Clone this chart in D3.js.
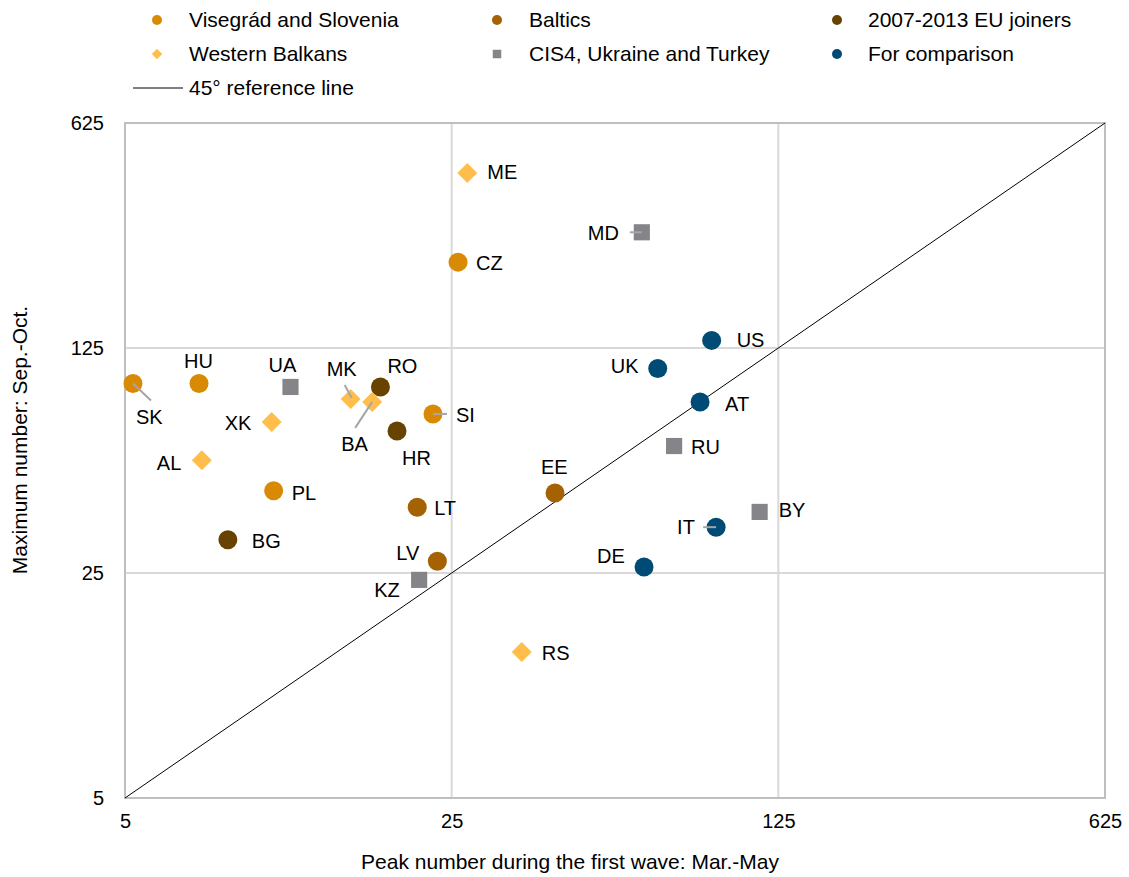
<!DOCTYPE html>
<html>
<head>
<meta charset="utf-8">
<script src="https://cdn.jsdelivr.net/npm/d3@7"></script>
<style>
  body { margin: 0; background: #fff; }
  text { font-family: "Liberation Sans", Arial, sans-serif; fill: #000; }
</style>
</head>
<body>
<div id="chart"></div>
<script>
// Data: peak in first wave (x) vs max in Sep.-Oct. (y)
var codes   = ["SK", "HU", "PL", "CZ", "SI",
               "EE", "LT", "LV",
               "RO", "HR", "BG",
               "ME", "MK", "BA", "XK", "AL", "RS",
               "UA", "MD", "RU", "BY", "KZ",
               "US", "UK", "AT", "IT", "DE"];
var groups  = ["vis", "vis", "vis", "vis", "vis",
               "bal", "bal", "bal",
               "eu", "eu", "eu",
               "wb", "wb", "wb", "wb", "wb", "wb",
               "cis", "cis", "cis", "cis", "cis",
               "cmp", "cmp", "cmp", "cmp", "cmp"];
var peakFirst = [5.2, 7.2, 10.4, 25.8, 22.8,
                 41.6, 21.1, 23.3,
                 17.6, 19.1, 8.3,
                 27, 15.2, 16.9, 10.3, 7.3, 35.3,
                 11.3, 63.8, 74.8, 114, 21.3,
                 90, 69, 85, 92, 64.5];
var maxAutumn = [97, 97, 45, 231, 78,
                 44.3, 40, 27.2,
                 94.6, 69, 31.7,
                 437, 86.8, 85, 73.6, 56, 14.2,
                 94.6, 286, 62, 38.7, 23.8,
                 132, 108, 85, 34.7, 26.1];
var groupKeys   = ["vis", "bal", "eu", "wb", "cis", "cmp"];
var groupNames  = ["Visegrád and Slovenia", "Baltics", "2007-2013 EU joiners",
                   "Western Balkans", "CIS4, Ukraine and Turkey", "For comparison"];
var tickValues  = [5, 25, 125, 625];

var colors = { vis: "#D98A04", bal: "#A46202", eu: "#684300", wb: "#FFBE4C", cis: "#858489", cmp: "#004B76" };
var shapes = { vis: "circle", bal: "circle", eu: "circle", wb: "diamond", cis: "square", cmp: "circle" };

// label placement relative to the marker: [dx, dy, leader line?]
var labelPos = {
  SK: [3, 34, [0, 0, 18, 17]], HU: [-15, -22], PL: [18, 2], CZ: [18, 1], SI: [23, 1, [0, 0, 14, 0]],
  EE: [-14, -26], LT: [17, 1], LV: [-41, -8],
  RO: [7, -21], HR: [5, 27], BG: [24, 1],
  ME: [20, -1], MK: [-24, -30, [-6, -14, 1, -1]], BA: [-31, 42, [0, 0, -17, 26]], XK: [-47, 1], AL: [-45, 3], RS: [20, 1],
  UA: [-22, -22], MD: [-54, 1, [-12, 0, 0, 0]], RU: [17, 1], BY: [19, -2], KZ: [-45, 10],
  US: [25, 0], UK: [-47, -2], AT: [25, 2], IT: [-39, 0, [-13, 0, 0, 0]], DE: [-47, -11]
};

var svgWidth = 1129;
var svgHeight = 877;
var plot = { left: 125, right: 1105, top: 123, bottom: 798 };

var svg = d3.select("#chart")
  .append("svg")
  .attr("width", svgWidth)
  .attr("height", svgHeight);

var xScale = d3.scaleLog().base(5).domain([5, 625]).range([plot.left, plot.right]);
var yScale = d3.scaleLog().base(5).domain([5, 625]).range([plot.bottom, plot.top]);

// gridlines
svg.append("g").selectAll("line.gx")
  .data(tickValues.slice(1, 3))
  .enter().append("line")
  .attr("x1", d => xScale(d)).attr("x2", d => xScale(d))
  .attr("y1", plot.top).attr("y2", plot.bottom)
  .attr("stroke", "#D9D9D9").attr("stroke-width", 2);

svg.append("g").selectAll("line.gy")
  .data(tickValues.slice(1, 3))
  .enter().append("line")
  .attr("y1", d => yScale(d)).attr("y2", d => yScale(d))
  .attr("x1", plot.left).attr("x2", plot.right)
  .attr("stroke", "#D9D9D9").attr("stroke-width", 2);

// frame
svg.append("rect")
  .attr("x", plot.left).attr("y", plot.top)
  .attr("width", plot.right - plot.left).attr("height", plot.bottom - plot.top)
  .attr("fill", "none").attr("stroke", "#BFBFBF").attr("stroke-width", 2);

// axes (only labels shown)
var bottomAxis = d3.axisBottom(xScale).tickValues(tickValues).tickFormat(d3.format("d")).tickSize(0).tickPadding(16);
var leftAxis = d3.axisLeft(yScale).tickValues(tickValues).tickFormat(d3.format("d")).tickSize(0).tickPadding(21);

var gx = svg.append("g").attr("transform", `translate(0, ${plot.bottom})`).call(bottomAxis);
var gy = svg.append("g").attr("transform", `translate(${plot.left}, 0)`).call(leftAxis);
[gx, gy].forEach(function(g) {
  g.select(".domain").remove();
  g.selectAll("text").attr("font-size", 20).attr("font-family", "Liberation Sans, Arial, sans-serif").attr("fill", "#000");
});

// 45 degree line
svg.append("line")
  .attr("x1", xScale(5)).attr("y1", yScale(5))
  .attr("x2", xScale(625)).attr("y2", yScale(625))
  .attr("stroke", "#000").attr("stroke-width", 1);

// axis titles
svg.append("text")
  .attr("x", 570).attr("y", 869)
  .attr("text-anchor", "middle").attr("font-size", 21)
  .text("Peak number during the first wave: Mar.-May");

svg.append("text")
  .attr("transform", "translate(27, 440) rotate(-90)")
  .attr("text-anchor", "middle").attr("font-size", 21)
  .text("Maximum number: Sep.-Oct.");

function drawMarker(g, shape, color, size) {
  if (shape === "circle") {
    g.append("circle").attr("r", size).attr("fill", color);
  } else if (shape === "square") {
    g.append("rect").attr("x", -size * 0.85).attr("y", -size * 0.85)
      .attr("width", size * 1.7).attr("height", size * 1.7).attr("fill", color);
  } else {
    var s = size * 1.05;
    g.append("path").attr("d", `M0,${-s}L${s},0L0,${s}L${-s},0Z`).attr("fill", color);
  }
}

var points = codes.map(function(c, i) {
  return { code: c, group: groups[i], x: peakFirst[i], y: maxAutumn[i] };
});

// markers
var marks = svg.append("g").selectAll("g.pt")
  .data(points)
  .enter().append("g")
  .attr("transform", d => `translate(${xScale(d.x)}, ${yScale(d.y)})`);
marks.each(function(d) {
  drawMarker(d3.select(this), shapes[d.group], colors[d.group], 9.5);
});

// leader lines, drawn over the markers
points.forEach(function(d) {
  var lp = labelPos[d.code];
  if (lp && lp[2]) {
    var px = xScale(d.x), py = yScale(d.y), l = lp[2];
    svg.append("line")
      .attr("x1", px + l[0]).attr("y1", py + l[1])
      .attr("x2", px + l[2]).attr("y2", py + l[3])
      .attr("stroke", "#A6A6A6").attr("stroke-width", 2);
  }
});

// data labels
svg.append("g").selectAll("text")
  .data(points)
  .enter().append("text")
  .attr("x", d => xScale(d.x) + labelPos[d.code][0])
  .attr("y", d => yScale(d.y) + labelPos[d.code][1])
  .attr("dy", "0.35em")
  .attr("font-size", 20)
  .text(d => d.code);

// legend
var legendMarkX = [157, 497, 837];
var legendTextX = [189, 529, 868];
var legendRows = [20, 54];
groupKeys.forEach(function(k, i) {
  var col = i % 3, ly = legendRows[Math.floor(i / 3)];
  var g = svg.append("g").attr("transform", `translate(${legendMarkX[col]}, ${ly})`);
  drawMarker(g, shapes[k], colors[k], 5);
  svg.append("text")
    .attr("x", legendTextX[col]).attr("y", ly).attr("dy", "0.35em")
    .attr("font-size", 21)
    .text(groupNames[i]);
});
svg.append("line")
  .attr("x1", 133).attr("x2", 183).attr("y1", 88).attr("y2", 88)
  .attr("stroke", "#000").attr("stroke-width", 1);
svg.append("text")
  .attr("x", 189).attr("y", 88).attr("dy", "0.35em")
  .attr("font-size", 21)
  .text("45° reference line");
</script>
</body>
</html>
